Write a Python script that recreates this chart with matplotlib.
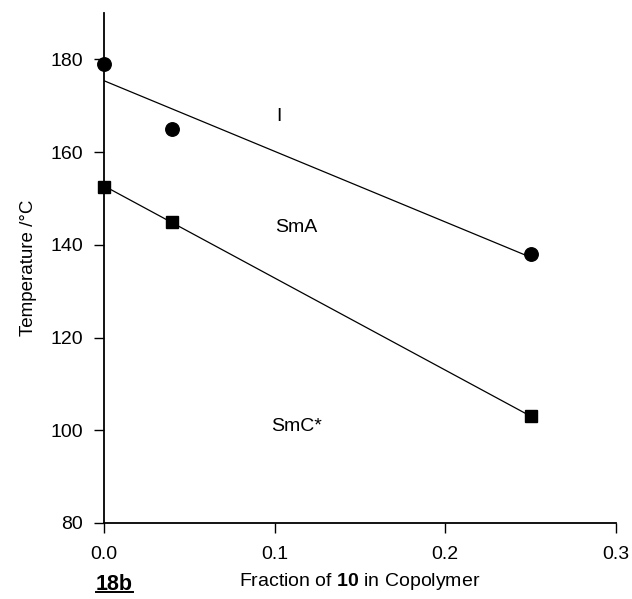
import numpy as np
import matplotlib
matplotlib.use("Agg")
import matplotlib.pyplot as plt
from matplotlib.lines import Line2D

plt.rcParams['font.family'] = ['Liberation Sans', 'DejaVu Sans']
plt.rcParams['mathtext.fontset'] = 'custom'
plt.rcParams['mathtext.rm'] = 'Liberation Sans'
plt.rcParams['mathtext.bf'] = 'Liberation Sans:bold'

# Data
frac_I = [0.0, 0.04, 0.25]
temp_I = [179.0, 165.0, 138.0]
frac_A = [0.0, 0.04, 0.25]
temp_A = [152.5, 145.0, 103.0]
phase_labels = ["I", "SmA", "SmC*"]
phase_x = [0.101, 0.100, 0.098]
phase_y = [167.6, 143.8, 100.9]
xticks = [0.0, 0.1, 0.2, 0.3]
xtick_labels = ["0.0", "0.1", "0.2", "0.3"]
yticks = [80, 100, 120, 140, 160, 180]

fig = plt.figure(figsize=(6.32, 5.99), dpi=100)
ax = fig.add_axes([0.1646, 0.1269, 0.810, 0.8514])

for fx, ty, mk, ms in [(frac_I, temp_I, 'o', 9.7), (frac_A, temp_A, 's', 9.0)]:
    fx = np.array(fx); ty = np.array(ty)
    p = np.polyfit(fx, ty, 1)
    xl = np.array([fx.min(), fx.max()])
    ax.plot(xl, np.polyval(p, xl), color='black', lw=0.9, zorder=2)
    ax.plot(fx, ty, linestyle='none', marker=mk, color='black',
            markersize=ms, zorder=3, clip_on=False)

for lab, x, y in zip(phase_labels, phase_x, phase_y):
    ax.text(x, y, lab, ha='left', va='center', fontsize=14)

ax.set_xlim(0, 0.3)
ax.set_ylim(80, 190)
ax.set_xticks(xticks)
ax.set_xticklabels(xtick_labels)
ax.set_yticks(yticks)
for s in ['top', 'right']:
    ax.spines[s].set_visible(False)
for s in ['left', 'bottom']:
    ax.spines[s].set_linewidth(1.3)
ax.tick_params(direction='out', length=7, width=1.0, labelsize=14, pad=8)
ax.tick_params(axis='x', pad=9.5)
ax.set_ylabel("Temperature /°C", fontsize=13.5, labelpad=10)
ax.set_xlabel(r"Fraction of $\mathbf{10}$ in Copolymer", fontsize=14, labelpad=5.5)

t = fig.text(114/632, 1 - 584/599, "18b", ha='center', va='center',
             fontsize=15.5, fontweight='bold')
fig.canvas.draw()
bb = t.get_window_extent().transformed(fig.transFigure.inverted())
fig.add_artist(Line2D([bb.x0, bb.x1], [bb.y0 + 0.004, bb.y0 + 0.004],
                      transform=fig.transFigure, color='black', lw=1.4))

fig.savefig("out.png", dpi=100)
